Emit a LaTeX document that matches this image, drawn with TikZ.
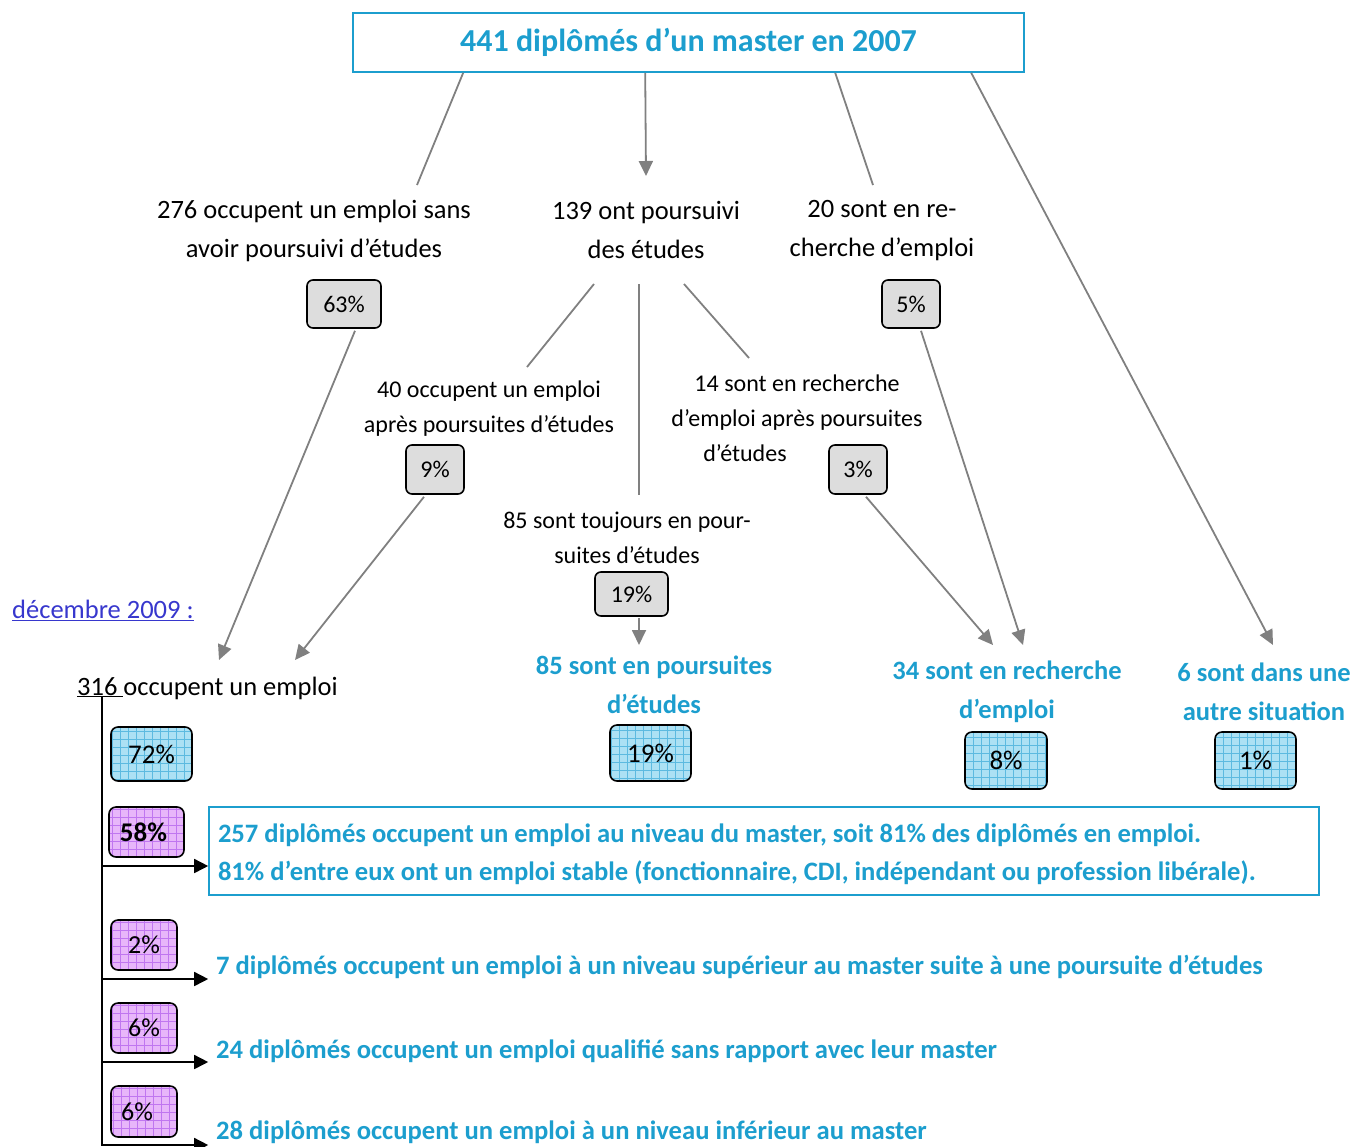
\documentclass[tikz,border=0pt]{standalone}
\usepackage{fontspec}
\setmainfont{Carlito}
\usetikzlibrary{arrows.meta,calc}
\definecolor{cy}{RGB}{28,158,206}
\definecolor{lnk}{RGB}{55,55,205}
\definecolor{gl}{RGB}{128,128,128}
\definecolor{gf}{RGB}{221,221,221}
\definecolor{bf}{RGB}{172,225,244}
\definecolor{bg}{RGB}{92,186,224}
\definecolor{pf}{RGB}{232,182,250}
\definecolor{pg}{RGB}{192,118,240}
\begin{document}
\begin{tikzpicture}[x=1pt,y=-1pt,
 txt/.style={inner sep=0pt, align=center, font=\fontsize{26.5}{39}\selectfont},
 stxt/.style={inner sep=0pt, align=center, font=\fontsize{24}{35}\selectfont},
 head/.style={inner sep=0pt, align=center, text=cy, font=\bfseries\fontsize{26.5}{38.5}\selectfont},
 btxt/.style={inner sep=0pt, anchor=west, text=cy, font=\bfseries\fontsize{26.6}{38}\selectfont},
 gbox/.style={draw=black, line width=1.6pt, fill=gf, rounded corners=6pt, inner sep=0pt, font=\fontsize{24}{28}\selectfont},
 hatchbox/.style 2 args={draw=black, line width=1.6pt, rounded corners=7pt, inner sep=0pt, fill=#1,
   font=\fontsize{27}{30}\selectfont,
   path picture={\draw[#2, line width=0.5pt, step=8pt] (path picture bounding box.south west) grid (path picture bounding box.north east);}},
 bbox/.style={hatchbox={bf}{bg}},
 pbox/.style={hatchbox={pf}{pg}},
 garrow/.style={draw=gl, line width=1.8pt, -{Triangle[length=15pt,width=14pt]}},
 gline/.style={draw=gl, line width=1.8pt},
 karrow/.style={draw=black, line width=1.6pt, -{Triangle[length=14pt,width=14pt]}},
 kline/.style={draw=black, line width=1.6pt},
]
\useasboundingbox (0,0) rectangle (1351,1146);

% title
\node[draw=cy, line width=1.6pt, minimum width=671pt, minimum height=59pt, inner sep=0pt,
  text=cy, font=\bfseries\fontsize{32}{38}\selectfont] (title) at (688.5,42.5) {441 diplômés d’un master en 2007};

% first level texts
\node[txt] (n276) at (314,230.5) {276 occupent un emploi sans\\avoir poursuivi d’études};
\node[txt] (n139) at (646,229.5) {139 ont poursuivi\\des études};
\node[txt] (n20) at (882,231) {20 sont en re-\\cherche d’emploi};

\node[gbox, minimum width=74pt, minimum height=48pt] (g63) at (344,304) {\raisebox{-2pt}{63\%}};
\node[gbox, minimum width=58pt, minimum height=48pt] (g5) at (911,304) {\raisebox{-2pt}{5\%}};

% second level texts
\node[stxt] (n40) at (489,409) {40 occupent un emploi\\après poursuites d’études};
\node[stxt] (n14) at (797,418) {14 sont en recherche\\d’emploi après poursuites\\d’études\rule{104pt}{0pt}};
\node[stxt] (n85) at (627,537.5) {85 sont toujours en pour-\\suites d’études};

\node[gbox, minimum width=58pt, minimum height=49pt] (g9) at (435,469.5) {\raisebox{-2pt}{9\%}};
\node[gbox, minimum width=58pt, minimum height=49pt] (g3) at (858,469.5) {\raisebox{-2pt}{3\%}};
\node[gbox, minimum width=73pt, minimum height=44pt] (g19) at (631.5,594) {\raisebox{-5pt}{19\%}};

% december 2009
\node[inner sep=0pt, anchor=west, text=lnk, font=\fontsize{26.5}{32}\selectfont] (dec) at (12,610) {\underline{décembre 2009 :}};
\node[inner sep=0pt, anchor=west, font=\fontsize{26.5}{32}\selectfont] (n316) at (77,688) {\underline{316 }occupent un emploi};

% outcome headings
\node[head] (h85) at (654,685) {85 sont en poursuites\\d’études};
\node[head] (h34) at (1007,692) {34 sont en recherche\\d’emploi};
\node[head] (h6) at (1264,692) {6 sont dans une\\autre situation};

\node[bbox, minimum width=81pt, minimum height=54pt] (b72) at (151.5,754) {72\%};
\node[bbox, minimum width=81pt, minimum height=56pt] (b19) at (650.5,753) {19\%};
\node[bbox, minimum width=82pt, minimum height=57pt] (b8) at (1006,760.5) {8\%};
\node[bbox, minimum width=81pt, minimum height=57pt] (b1) at (1255.5,760.5) {1\%};

\node[pbox, minimum width=75pt, minimum height=50pt, font=\bfseries\fontsize{27}{30}\selectfont] (p58) at (146.5,832) {58\%\rule{6pt}{0pt}};
\node[pbox, minimum width=66pt, minimum height=50pt, font=\fontsize{26}{30}\selectfont] (p2) at (144,945) {2\%};
\node[pbox, minimum width=66pt, minimum height=50pt, font=\fontsize{26}{30}\selectfont] (p6a) at (144,1028) {6\%};
\node[pbox, minimum width=66pt, minimum height=51pt, font=\fontsize{26}{30}\selectfont] (p6b) at (144,1111.5) {6\%\rule{14pt}{0pt}};

% text box
\node[draw=cy, line width=1.6pt, minimum width=1110pt, minimum height=88pt, inner xsep=9pt, inner ysep=0pt,
  text width=1092pt, align=flush left, text=cy, font=\bfseries\fontsize{26.6}{38}\selectfont] (tb) at (764,851)
  {\rule{0pt}{26pt}257 diplômés occupent un emploi au niveau du master, soit 81\% des diplômés en emploi.\\
   81\% d’entre eux ont un emploi stable (fonctionnaire, CDI, indépendant ou profession libérale).};

\node[btxt] (t7) at (216,967) {7 diplômés occupent un emploi à un niveau supérieur au master suite à une poursuite d’études};
\node[btxt] (t24) at (216,1051) {24 diplômés occupent un emploi qualifié sans rapport avec leur master};
\node[btxt] (t28) at (216,1132) {28 diplômés occupent un emploi à un niveau inférieur au master};

% coordinates
\coordinate (e1) at (417,185);
\coordinate (e2) at (646,176);
\coordinate (e3) at (873,185);
\coordinate (e4) at (1273,645);
\coordinate (p1) at (594,284);
\coordinate (q1) at (527,367);
\coordinate (p2) at (639,284);
\coordinate (q2) at (639,495);
\coordinate (p3) at (684,284);
\coordinate (q3) at (749,358);
\coordinate (a1) at (219,660);
\coordinate (a2) at (295,660);
\coordinate (a3) at (993,645);
\coordinate (a4) at (1023,645);
\coordinate (a5) at (639,645);
\coordinate (vtop) at (102,697);
\coordinate (vbot) at (102,1146);
\coordinate (v1) at (102,866);
\coordinate (v2) at (102,979);
\coordinate (v3) at (102,1062);
\coordinate (v4) at (102,1145);

% connectors from title
\draw[gline] ($(title.south west)+(111,0)$) -- (e1);
\draw[garrow] ($(title.south west)+(293,0)$) -- (e2);
\draw[gline] ($(title.south west)+(483,0)$) -- (e3);
\draw[garrow] ($(title.south west)+(619,0)$) -- (e4);

% from 139
\draw[gline] (p1) -- (q1);
\draw[gline] (p2) -- (q2);
\draw[gline] (p3) -- (q3);

% to december
\draw[garrow] ($(g63.south)+(11,2)$) -- (a1);
\draw[garrow] ($(g9.south)+(-11,2)$) -- (a2);
\draw[garrow] ($(g3.south)+(8,2)$) -- (a3);
\draw[garrow] ($(g5.south)+(10,2)$) -- (a4);
\draw[garrow] ($(g19.south)+(7.5,1)$) -- (a5);

% employment tree
\draw[kline] (vtop) -- (vbot);
\draw[karrow] (v1) -- (v1 -| tb.west);
\draw[karrow] (v2) -- (v2 -| tb.west);
\draw[karrow] (v3) -- (v3 -| tb.west);
\draw[karrow] (v4) -- (v4 -| tb.west);
\end{tikzpicture}
\end{document}
